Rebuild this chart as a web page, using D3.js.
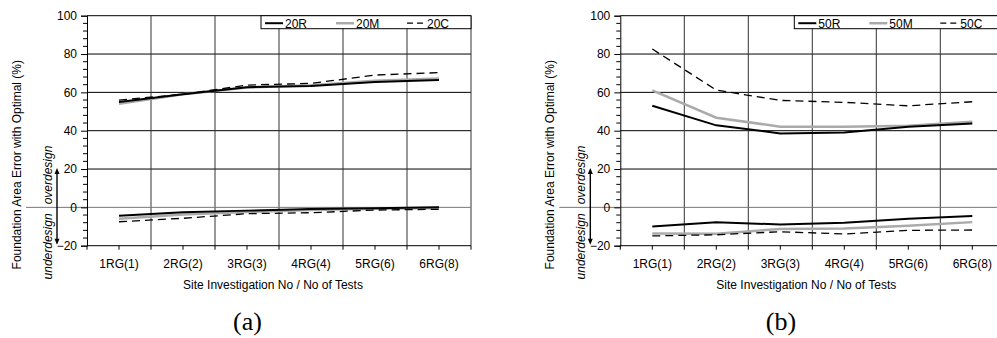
<!DOCTYPE html>
<html>
<head>
<meta charset="utf-8">
<script src="https://cdn.jsdelivr.net/npm/d3@7/dist/d3.min.js"></script>
<style>
  body { margin: 0; background: #fff; }
  svg { display: block; }
  text { font-family: "Liberation Sans", Arial, sans-serif; }
  text.panel-label { font-family: "Liberation Serif", "Times New Roman", serif; }
</style>
</head>
<body>
<script>
// categories on the x axis (same for both panels)
var categories = ["1RG(1)", "2RG(2)", "3RG(3)", "4RG(4)", "5RG(6)", "6RG(8)"];
var yTicks = [-20, 0, 20, 40, 60, 80, 100];

// panel (a) - 20 series, upper branch (overdesign) and lower branch (underdesign)
var r20Upper = [55, 59, 62.7, 63.3, 65.4, 66.4];
var m20Upper = [54, 59, 62.5, 63.7, 66, 67.3];
var c20Upper = [56, 59, 63.8, 64.7, 69, 70.3];
var r20Lower = [-4.4, -2.6, -1.7, -0.9, -0.5, 0];
var m20Lower = [-6, -3.7, -2.4, -1.4, -0.7, -0.3];
var c20Lower = [-7.5, -5.7, -3.3, -2.8, -1.4, -1];

// panel (b) - 50 series
var r50Upper = [53, 42.8, 38.6, 39.1, 42.1, 43.7];
var m50Upper = [61, 46.8, 42.1, 42.1, 42.6, 44.7];
var c50Upper = [82.6, 61.2, 55.8, 54.8, 53, 55.1];
var r50Lower = [-10, -7.8, -8.9, -8, -5.9, -4.5];
var m50Lower = [-13.6, -13.7, -11.3, -11, -9.6, -7.7];
var c50Lower = [-14.9, -14.3, -12.7, -13.9, -12, -11.8];

var W = 997, H = 338;
var svg = d3.select("body").append("svg").attr("width", W).attr("height", H);

function drawPanel(left, names, seriesSets, label, labelX) {
    var top = 15.7, w = 384, h = 230;
    var g = svg.append("g").attr("transform", "translate(" + left + "," + top + ")");

    var x = d3.scaleBand().domain(categories).range([0, w]).paddingInner(0).paddingOuter(0);
    var y = d3.scaleLinear().domain([-20, 100]).range([h, 0]);
    var cx = function(i) { return x(categories[i]) + x.bandwidth() / 2; };

    // horizontal grid lines
    g.selectAll(".hg").data(yTicks.filter(function(d) { return d > 0; })).enter()
        .append("line")
        .attr("x1", 0).attr("x2", w)
        .attr("y1", function(d) { return y(d); }).attr("y2", function(d) { return y(d); })
        .attr("stroke", "#000").attr("stroke-width", 1);

    // vertical grid lines at category boundaries
    var bounds = categories.map(function(c) { return x(c) + x.bandwidth(); });
    g.selectAll(".vg").data(bounds).enter().append("line")
        .attr("x1", function(d) { return d; }).attr("x2", function(d) { return d; })
        .attr("y1", 0).attr("y2", h)
        .attr("stroke", "#333").attr("stroke-width", 1);

    // zero line, runs out to the left past the axis
    g.append("line").attr("x1", -61).attr("x2", w)
        .attr("y1", y(0)).attr("y2", y(0))
        .attr("stroke", "#777").attr("stroke-width", 1);

    // y axis
    var yAxis = d3.axisLeft(y).tickValues(yTicks).tickSize(6).tickPadding(4).tickFormat(d3.format("d"));
    var ya = g.append("g").call(yAxis);
    ya.select(".domain").attr("stroke", "#000");
    ya.selectAll("text").attr("font-size", 12).attr("fill", "#000");
    // minor ticks every 4 units
    var minor = d3.range(-20, 101, 4).filter(function(v) { return v % 20 !== 0; });
    g.selectAll(".ymin").data(minor).enter().append("line")
        .attr("x1", -4).attr("x2", 0)
        .attr("y1", function(d) { return y(d); }).attr("y2", function(d) { return y(d); })
        .attr("stroke", "#000");

    // x axis at the bottom (y = -20)
    g.append("line").attr("x1", 0).attr("x2", w).attr("y1", h).attr("y2", h).attr("stroke", "#000");
    var xt = [0].concat(categories.map(function(c, i) { return cx(i); })).concat(bounds);
    g.selectAll(".xt").data(xt).enter().append("line")
        .attr("x1", function(d) { return d; }).attr("x2", function(d) { return d; })
        .attr("y1", h).attr("y2", h + 4).attr("stroke", "#000");
    g.selectAll(".xl").data(categories).enter().append("text")
        .attr("x", function(d, i) { return cx(i); }).attr("y", h + 22)
        .attr("text-anchor", "middle").attr("font-size", 12).text(function(d) { return d; });

    // axis titles
    g.append("text").attr("x", w / 2 - 6).attr("y", h + 43)
        .attr("text-anchor", "middle").attr("font-size", 12)
        .text("Site Investigation No / No of Tests");
    g.append("text").attr("transform", "translate(-66," + (y(40) + 34) + ") rotate(-90)")
        .attr("text-anchor", "middle").attr("font-size", 12)
        .text("Foundation Area Error with Optimal (%)");

    // overdesign / underdesign double arrow: shaft plus two small heads
    var ax = -30;
    var yTop = y(20.5), yBot = y(-19.5);
    g.append("line")
        .attr("x1", ax).attr("x2", ax).attr("y1", yTop + 4).attr("y2", yBot - 4)
        .attr("stroke", "#000").attr("stroke-width", 1.4);
    g.append("path")
        .attr("d", "M" + ax + "," + yTop + "L" + (ax - 2.5) + "," + (yTop + 6) + "L" + (ax + 2.5) + "," + (yTop + 6) + "Z")
        .attr("fill", "#000");
    g.append("path")
        .attr("d", "M" + ax + "," + yBot + "L" + (ax - 2.5) + "," + (yBot - 6) + "L" + (ax + 2.5) + "," + (yBot - 6) + "Z")
        .attr("fill", "#000");
    g.append("text").attr("transform", "translate(-35," + (y(0) - 3) + ") rotate(-90)")
        .attr("text-anchor", "start").attr("font-size", 12).attr("font-style", "italic")
        .text("overdesign");
    g.append("text").attr("transform", "translate(-35," + (y(0) + 6) + ") rotate(-90)")
        .attr("text-anchor", "end").attr("font-size", 12).attr("font-style", "italic")
        .text("underdesign");

    // series lines
    var styles = [
        { color: "#000", width: 2, dash: null },
        { color: "#aaa", width: 2.5, dash: null },
        { color: "#000", width: 1.3, dash: "8,5" }
    ];
    var line = d3.line().x(function(d, i) { return cx(i); }).y(function(d) { return y(d); });
    var order = [1, 0, 2];
    order.forEach(function(k) {
        seriesSets[k].forEach(function(vals) {
            g.append("path").datum(vals).attr("d", line)
                .attr("fill", "none").attr("stroke", styles[k].color)
                .attr("stroke-width", styles[k].width)
                .attr("stroke-dasharray", styles[k].dash);
        });
    });

    // legend box, top right
    var lg = g.append("g").attr("transform", "translate(" + (w - 210) + ",0)");
    lg.append("rect").attr("x", 0).attr("y", 0).attr("width", 210).attr("height", 13)
        .attr("fill", "#fff").attr("stroke", "#000").attr("stroke-width", 1);
    names.forEach(function(n, k) {
        var ox = 4 + k * 71;
        lg.append("line").attr("x1", ox).attr("x2", ox + 18).attr("y1", 7.5).attr("y2", 7.5)
            .attr("stroke", styles[k].color).attr("stroke-width", styles[k].width)
            .attr("stroke-dasharray", k === 2 ? "6,4" : null);
        lg.append("text").attr("x", ox + 20).attr("y", 12.5).attr("font-size", 12).text(n);
    });

    // panel label
    svg.append("text").attr("class", "panel-label").attr("x", labelX).attr("y", 330)
        .attr("text-anchor", "middle").attr("font-size", 26)
        .text(label);
}

drawPanel(87, ["20R", "20M", "20C"],
    [[r20Upper, r20Lower], [m20Upper, m20Lower], [c20Upper, c20Lower]], "(a)", 247.5);
drawPanel(620.3, ["50R", "50M", "50C"],
    [[r50Upper, r50Lower], [m50Upper, m50Lower], [c50Upper, c50Lower]], "(b)", 781);
</script>
</body>
</html>
